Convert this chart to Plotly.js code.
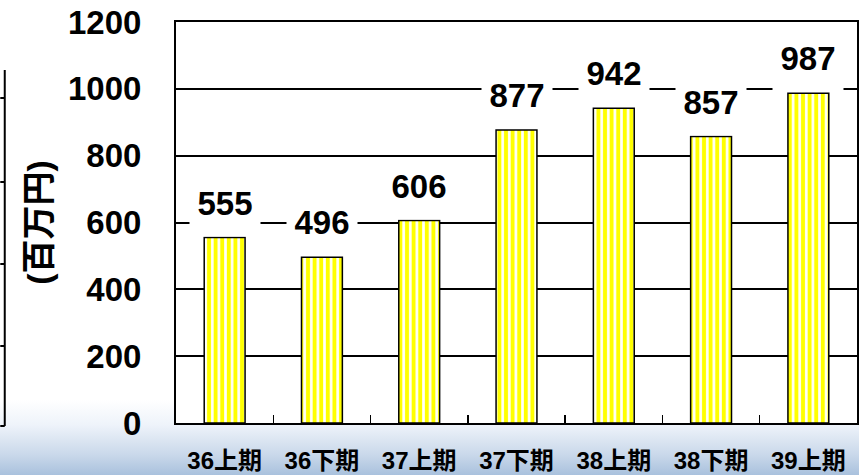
<!DOCTYPE html>
<html>
<head>
<meta charset="utf-8">
<script src="https://cdn.plot.ly/plotly-3.0.1.min.js"></script>
<style>
html, body { margin:0; padding:0; width:859px; height:475px; overflow:hidden;
  background: linear-gradient(to bottom, #ffffff 0px, #ffffff 400px, #eef3fa 425px, #c9d8ea 455px, #a9c1dd 475px); }
#chart { width:859px; height:475px; }
</style>
</head>
<body>
<div id="chart"></div>
<script>
const categories = ['36上期', '36下期', '37上期', '37下期', '38上期', '38下期', '39上期'];
const values = [555, 496, 606, 877, 942, 857, 987];
const yTicks = [0, 200, 400, 600, 800, 1000, 1200];
const yTitle = '(百万円)';

const FONT = 'Arial, "Liberation Sans", "Noto Sans CJK JP", sans-serif';

const trace = {
  type: 'bar',
  x: categories,
  y: values,
  marker: {
    color: '#ffff00',
    line: { color: '#000000', width: 1.5 },
    pattern: { shape: '|', fillmode: 'replace', bgcolor: '#ffff00', fgcolor: '#ffffff', size: 6.6, solidity: 0.4 }
  },
  hoverinfo: 'none'
};

const annotations = categories.map((c, i) => ({
  x: c, y: values[i], xref: 'x', yref: 'y',
  text: String(values[i]),
  showarrow: false,
  yanchor: 'bottom', xanchor: 'center',
  yshift: 1,
  width: 70, height: 51, valign: 'top', borderpad: 0,
  bgcolor: '#ffffff',
  font: { family: FONT, size: 33, color: '#000000', weight: 'bold' }
}));

// decorative fragment of a neighbouring chart at the left edge
const PX = v => (v - 176) / 682;
const PY = v => (423 - v) / 401;
const shapes = [
  { type: 'line', xref: 'paper', yref: 'paper', x0: PX(4.5), x1: PX(4.5), y0: PY(70), y1: PY(426), line: { color: '#000', width: 2 } },
  { type: 'line', xref: 'paper', yref: 'paper', x0: PX(0), x1: PX(4.5), y0: PY(426), y1: PY(426), line: { color: '#000', width: 2 } }
];
[98, 182, 264, 346].forEach(t => shapes.push(
  { type: 'line', xref: 'paper', yref: 'paper', x0: PX(0), x1: PX(4.5), y0: PY(t), y1: PY(t), line: { color: '#000', width: 2 } }
));

const layout = {
  width: 859, height: 475,
  margin: { l: 176, r: 2, t: 22, b: 52, autoexpand: false },
  paper_bgcolor: 'rgba(0,0,0,0)',
  plot_bgcolor: '#ffffff',
  bargap: 0.58,
  showlegend: false,
  font: { family: FONT, color: '#000000' },
  xaxis: {
    type: 'category',
    showline: true, mirror: true, linecolor: '#000', linewidth: 2,
    ticks: 'inside', tickson: 'boundaries', ticklen: 8, tickwidth: 1.5, tickcolor: '#000',
    showgrid: false,
    tickfont: { family: FONT, size: 24, color: '#000', weight: 'bold' },
    ticklabelstandoff: 15,
    automargin: false
  },
  yaxis: {
    range: [0, 1200],
    tickvals: yTicks,
    ticktext: yTicks.map(String),
    showline: true, mirror: true, linecolor: '#000', linewidth: 2,
    showgrid: true, gridcolor: '#000', gridwidth: 2,
    zeroline: false,
    ticks: '',
    tickfont: { family: FONT, size: 33, color: '#000', weight: 'bold' },
    ticklabelstandoff: 26,
    title: { text: yTitle, font: { family: FONT, size: 34, color: '#000', weight: 'bold' }, standoff: 6 },
    automargin: false
  },
  annotations: annotations,
  shapes: shapes
};

Plotly.newPlot('chart', [trace], layout, { staticPlot: true, displayModeBar: false });
</script>
</body>
</html>
